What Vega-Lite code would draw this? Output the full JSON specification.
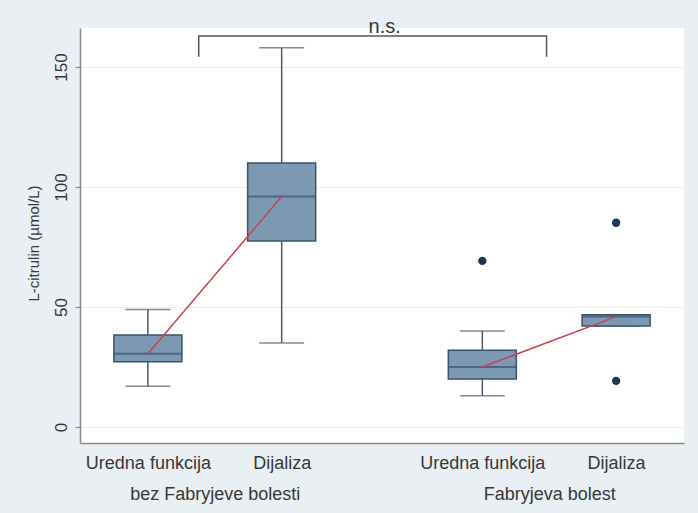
{
  "$schema": "https://vega.github.io/schema/vega-lite/v6.json",
  "width": 604,
  "height": 415,
  "autosize": "none",
  "padding": {"left": 80, "top": 28, "right": 14, "bottom": 70},
  "background": "#e9eff3",
  "config": {
    "view": {"fill": "white", "stroke": null},
    "font": "Liberation Sans"
  },
  "datasets": {
    "boxes": [
      {"grp": "bez Fabryjeve bolesti", "cond": "Uredna funkcija", "x": 1, "lo": 17, "q1": 27.2, "med": 30.5, "q3": 38.3, "hi": 49},
      {"grp": "bez Fabryjeve bolesti", "cond": "Dijaliza", "x": 2, "lo": 35, "q1": 77.5, "med": 96, "q3": 110, "hi": 158},
      {"grp": "Fabryjeva bolest", "cond": "Uredna funkcija", "x": 3.5, "lo": 13, "q1": 20, "med": 25, "q3": 32, "hi": 40},
      {"grp": "Fabryjeva bolest", "cond": "Dijaliza", "x": 4.5, "lo": 42.1, "q1": 42.1, "med": 46, "q3": 46.8, "hi": 46.8}
    ],
    "outliers": [
      {"grp": "Fabryjeva bolest", "x": 3.5, "v": 69.2},
      {"grp": "Fabryjeva bolest", "x": 4.5, "v": 85.1},
      {"grp": "Fabryjeva bolest", "x": 4.5, "v": 19.2}
    ],
    "bracket": [
      {"x": 1.38, "y": 154.3, "o": 1},
      {"x": 1.38, "y": 162.9, "o": 2},
      {"x": 3.98, "y": 162.9, "o": 3},
      {"x": 3.98, "y": 154.3, "o": 4}
    ],
    "note": [
      {"x": 2.77, "y": 164.2, "t": "n.s."}
    ]
  },
  "layer": [
    {
      "data": {"name": "boxes"},
      "mark": {"type": "rule", "color": "#4b5b69", "strokeWidth": 1.5},
      "encoding": {
        "x": {
          "field": "x", "type": "quantitative",
          "scale": {"domain": [0.53, 4.97], "nice": false, "zero": false},
          "axis": {
            "values": [1, 1.5, 2, 3.5, 4, 4.5],
            "ticks": false, "grid": false,
            "domainColor": "#8a8a8a", "domainWidth": 1.5,
            "labelExpr": "datum.value == 1.5 ? ['', 'bez Fabryjeve bolesti'] : datum.value == 4 ? ['', 'Fabryjeva bolest'] : (datum.value == 2 || datum.value == 4.5) ? 'Dijaliza' : 'Uredna funkcija'",
            "labelFontSize": 18, "labelLineHeight": 31, "labelPadding": 11,
            "labelBaseline": "top", "labelOverlap": false, "labelBound": false, "labelFlush": false,
            "labelColor": "#383838",
            "title": null
          }
        },
        "y": {
          "field": "lo", "type": "quantitative",
          "scale": {"domain": [-6.67, 166.25], "nice": false, "zero": false},
          "axis": {
            "values": [0, 50, 100, 150],
            "title": "L-citrulin (µmol/L)",
            "labelAngle": 270, "labelAlign": "center", "labelBaseline": "alphabetic",
            "labelPadding": 9, "labelFontSize": 17, "labelColor": "#383838",
            "tickSize": 5, "tickColor": "#8a8a8a", "tickWidth": 1.2,
            "domainColor": "#8a8a8a", "domainWidth": 1.5,
            "grid": true, "gridColor": "#eaeff2", "gridWidth": 1,
            "titleFontSize": 15, "titleFontWeight": "normal", "titleColor": "#383838",
            "titlePadding": 11, "titleY": 215
          }
        },
        "y2": {"field": "hi"}
      }
    },
    {
      "data": {"name": "boxes"},
      "mark": {"type": "tick", "orient": "horizontal", "size": 45, "thickness": 1.5, "color": "#4b5b69"},
      "encoding": {
        "x": {"field": "x", "type": "quantitative"},
        "y": {"field": "lo", "type": "quantitative"}
      }
    },
    {
      "data": {"name": "boxes"},
      "mark": {"type": "tick", "orient": "horizontal", "size": 45, "thickness": 1.5, "color": "#4b5b69"},
      "encoding": {
        "x": {"field": "x", "type": "quantitative"},
        "y": {"field": "hi", "type": "quantitative"}
      }
    },
    {
      "data": {"name": "boxes"},
      "mark": {"type": "bar", "size": 68, "fill": "#7d98b3", "stroke": "#3a536b", "strokeWidth": 1.5},
      "encoding": {
        "x": {"field": "x", "type": "quantitative"},
        "y": {"field": "q1", "type": "quantitative"},
        "y2": {"field": "q3"}
      }
    },
    {
      "data": {"name": "boxes"},
      "mark": {"type": "tick", "orient": "horizontal", "size": 68, "thickness": 2, "color": "#3a536b"},
      "encoding": {
        "x": {"field": "x", "type": "quantitative"},
        "y": {"field": "med", "type": "quantitative"}
      }
    },
    {
      "data": {"name": "boxes"},
      "mark": {"type": "line", "color": "#c8414f", "strokeWidth": 1.5},
      "encoding": {
        "x": {"field": "x", "type": "quantitative"},
        "y": {"field": "med", "type": "quantitative"},
        "detail": {"field": "grp"}
      }
    },
    {
      "data": {"name": "outliers"},
      "mark": {"type": "point", "filled": true, "color": "#1d3857", "size": 70, "opacity": 1},
      "encoding": {
        "x": {"field": "x", "type": "quantitative"},
        "y": {"field": "v", "type": "quantitative"}
      }
    },
    {
      "data": {"name": "bracket"},
      "mark": {"type": "line", "color": "#555555", "strokeWidth": 1.5},
      "encoding": {
        "x": {"field": "x", "type": "quantitative"},
        "y": {"field": "y", "type": "quantitative"},
        "order": {"field": "o"}
      }
    },
    {
      "data": {"name": "note"},
      "mark": {"type": "text", "baseline": "alphabetic", "align": "center", "fontSize": 20, "color": "#383838"},
      "encoding": {
        "x": {"field": "x", "type": "quantitative"},
        "y": {"field": "y", "type": "quantitative"},
        "text": {"field": "t"}
      }
    }
  ]
}
